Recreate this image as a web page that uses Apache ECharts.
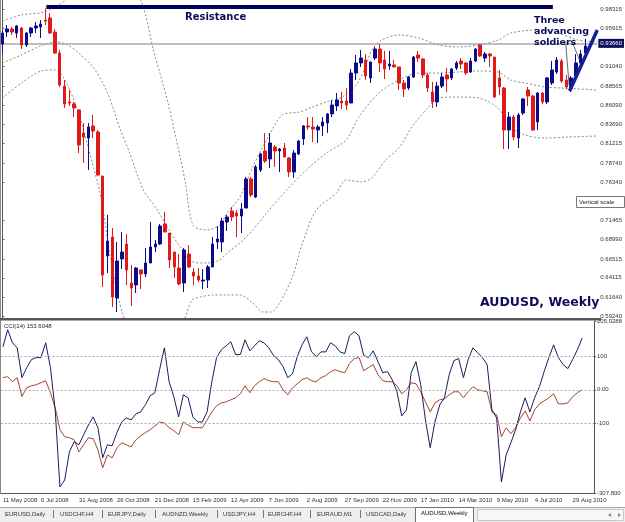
<!DOCTYPE html>
<html>
<head>
<meta charset="utf-8">
<script src="https://cdn.jsdelivr.net/npm/echarts@6/dist/echarts.min.js"></script>
<style>
html, body { margin: 0; padding: 0; background: #fff; }
#chart { width: 625px; height: 522px; }
</style>
</head>
<body>
<div id="chart"></div>
<script>
// weekly slots on the x axis (last two are empty margin on the right)
var slotCount = 125;

var dateTicks = ['11 May 2008', '6 Jul 2008', '31 Aug 2008', '26 Oct 2008', '21 Dec 2008', '15 Feb 2009',
  '12 Apr 2009', '7 Jun 2009', '2 Aug 2009', '27 Sep 2009', '22 Nov 2009', '17 Jan 2010',
  '14 Mar 2010', '9 May 2010', '4 Jul 2010', '29 Aug 2010'];

var priceTicks = [0.98315, 0.95915, 0.91040, 0.88565, 0.86090, 0.83690, 0.81215, 0.78740,
  0.76340, 0.71465, 0.68990, 0.66515, 0.64115, 0.61640, 0.59240];
var bidPrice = 0.9366;

var cciTickValues = [205.0288, 100, 0, -100, -307.8];
var cciTickLabels = ['205.0288', '100', '0.00', '-100', '-307.800'];
var cciLevels = [100, 0, -100];

// [open, close, low, high]
var ohlc = [
  [0.9392, 0.9532, 0.9277, 0.9558], [0.9545, 0.9583, 0.9481, 0.9634], [0.9583, 0.9545, 0.9507, 0.9609],
  [0.9532, 0.9622, 0.9469, 0.9634], [0.9596, 0.9379, 0.9328, 0.9609], [0.9379, 0.9532, 0.9354, 0.9545],
  [0.9532, 0.9596, 0.9481, 0.9609], [0.9596, 0.9622, 0.9532, 0.9673], [0.9609, 0.9647, 0.9469, 0.9698],
  [0.9698, 0.9685, 0.9634, 0.9845], [0.9724, 0.9532, 0.9520, 0.9787], [0.9545, 0.9277, 0.9265, 0.9583],
  [0.9277, 0.8869, 0.8844, 0.9316], [0.8856, 0.8627, 0.8576, 0.8933], [0.8653, 0.8640, 0.8602, 0.8806],
  [0.8627, 0.8576, 0.8461, 0.8653], [0.8551, 0.8104, 0.8002, 0.8563], [0.8257, 0.8206, 0.7875, 0.8385],
  [0.8193, 0.8334, 0.7786, 0.8385], [0.8347, 0.8283, 0.8193, 0.8487], [0.8270, 0.7722, 0.7709, 0.8296],
  [0.7709, 0.6447, 0.6294, 0.7709], [0.6689, 0.6880, 0.6472, 0.7212], [0.6931, 0.6166, 0.6039, 0.7046],
  [0.6154, 0.6625, 0.5975, 0.6868], [0.6651, 0.6740, 0.6523, 0.6995], [0.6842, 0.6511, 0.6319, 0.6970],
  [0.6345, 0.6281, 0.6052, 0.6574], [0.6319, 0.6536, 0.6217, 0.6549], [0.6511, 0.6460, 0.6268, 0.6511],
  [0.6460, 0.6600, 0.6421, 0.6791], [0.6600, 0.6804, 0.6600, 0.7123], [0.6804, 0.6842, 0.6740, 0.6893],
  [0.6842, 0.7072, 0.6829, 0.7097], [0.7097, 0.6995, 0.6995, 0.7250], [0.6982, 0.6638, 0.6536, 0.6982],
  [0.6740, 0.6549, 0.6409, 0.6740], [0.6536, 0.6332, 0.6319, 0.6715], [0.6345, 0.6766, 0.6230, 0.6791],
  [0.6715, 0.6549, 0.6536, 0.6829], [0.6485, 0.6434, 0.6319, 0.6536], [0.6434, 0.6383, 0.6358, 0.6536],
  [0.6370, 0.6383, 0.6268, 0.6523], [0.6383, 0.6549, 0.6281, 0.6574], [0.6549, 0.6842, 0.6549, 0.6931],
  [0.6868, 0.6906, 0.6778, 0.7072], [0.6868, 0.7135, 0.6740, 0.7174], [0.7123, 0.7186, 0.7008, 0.7212],
  [0.7263, 0.7186, 0.7135, 0.7314], [0.7237, 0.7199, 0.6931, 0.7276], [0.7199, 0.7288, 0.6982, 0.7365],
  [0.7301, 0.7671, 0.7301, 0.7696], [0.7671, 0.7467, 0.7441, 0.7696], [0.7441, 0.7824, 0.7429, 0.7849],
  [0.7786, 0.7990, 0.7760, 0.8002], [0.8028, 0.7900, 0.7875, 0.8257], [0.7926, 0.8130, 0.7811, 0.8257],
  [0.8079, 0.8028, 0.7824, 0.8104], [0.8028, 0.8053, 0.7760, 0.8066], [0.8066, 0.7951, 0.7951, 0.8130],
  [0.7939, 0.7760, 0.7696, 0.7951], [0.7760, 0.8002, 0.7684, 0.8041], [0.7990, 0.8155, 0.7977, 0.8168],
  [0.8181, 0.8347, 0.8104, 0.8359], [0.8347, 0.8334, 0.8296, 0.8461], [0.8334, 0.8308, 0.8143, 0.8461],
  [0.8296, 0.8334, 0.8130, 0.8359], [0.8347, 0.8398, 0.8219, 0.8461], [0.8385, 0.8500, 0.8257, 0.8512],
  [0.8500, 0.8614, 0.8461, 0.8678], [0.8602, 0.8678, 0.8538, 0.8767], [0.8665, 0.8640, 0.8563, 0.8780],
  [0.8665, 0.8614, 0.8551, 0.8831], [0.8640, 0.9022, 0.8640, 0.9073], [0.9022, 0.9150, 0.8933, 0.9252],
  [0.9150, 0.9213, 0.9099, 0.9316], [0.9188, 0.8984, 0.8933, 0.9265], [0.8959, 0.9163, 0.8895, 0.9163],
  [0.9213, 0.9328, 0.9188, 0.9354], [0.9328, 0.9150, 0.9035, 0.9392], [0.9188, 0.9073, 0.8946, 0.9303],
  [0.9112, 0.9137, 0.9061, 0.9303], [0.9124, 0.9099, 0.9099, 0.9188], [0.9099, 0.8895, 0.8806, 0.9099],
  [0.8895, 0.8818, 0.8716, 0.8933], [0.8831, 0.8971, 0.8806, 0.8984], [0.8971, 0.9226, 0.8959, 0.9239],
  [0.9252, 0.9213, 0.9163, 0.9303], [0.9201, 0.8997, 0.8959, 0.9213], [0.8997, 0.8831, 0.8780, 0.9022],
  [0.8780, 0.8653, 0.8576, 0.8908], [0.8653, 0.8856, 0.8589, 0.8908], [0.8856, 0.8971, 0.8831, 0.9022],
  [0.8997, 0.8946, 0.8780, 0.9086], [0.8959, 0.9073, 0.8933, 0.9086], [0.9086, 0.9150, 0.9061, 0.9175],
  [0.9175, 0.9137, 0.9073, 0.9213], [0.9150, 0.9022, 0.8997, 0.9163], [0.9035, 0.9175, 0.9022, 0.9213],
  [0.9175, 0.9328, 0.9163, 0.9341], [0.9379, 0.9239, 0.9226, 0.9392], [0.9213, 0.9265, 0.9163, 0.9290],
  [0.9265, 0.9239, 0.9099, 0.9277], [0.9226, 0.8716, 0.8704, 0.9226], [0.8959, 0.8844, 0.8742, 0.9061],
  [0.8831, 0.8296, 0.8053, 0.8844], [0.8296, 0.8461, 0.8053, 0.8525], [0.8461, 0.8206, 0.8168, 0.8487],
  [0.8193, 0.8487, 0.8066, 0.8512], [0.8512, 0.8691, 0.8487, 0.8704], [0.8806, 0.8729, 0.8602, 0.8844],
  [0.8729, 0.8296, 0.8283, 0.8742], [0.8398, 0.8767, 0.8296, 0.8780], [0.8767, 0.8653, 0.8627, 0.8780],
  [0.8653, 0.8959, 0.8627, 0.8971], [0.8895, 0.9061, 0.8869, 0.9175], [0.9035, 0.9188, 0.9010, 0.9226],
  [0.9175, 0.8920, 0.8895, 0.9201], [0.8933, 0.8844, 0.8818, 0.8997], [0.8831, 0.8959, 0.8780, 0.8984],
  [0.8984, 0.9150, 0.8971, 0.9265], [0.9150, 0.9265, 0.9137, 0.9316], [0.9277, 0.9366, 0.9252, 0.9456]
];

// bollinger envelope, read at points along each curve: [bar index, price]
var upperBand = [[0, 0.9685], [4, 0.9762], [8.7, 0.9800], [13.3, 0.9953], [16.4, 1.0144], [20.6, 1.0272],
  [24.7, 1.0208], [28.9, 0.9953], [31.6, 0.9316], [34.5, 0.8678], [37.2, 0.7951], [38.3, 0.7620],
  [39.9, 0.7084], [42.8, 0.7021], [45.5, 0.7084], [47, 0.7237], [49.7, 0.7441], [52.4, 0.7824],
  [55.3, 0.8168], [58.6, 0.8487], [62.2, 0.8525], [64.9, 0.8589], [67.8, 0.8653], [71.1, 0.8716],
  [74, 0.8869], [75.9, 0.9086], [77.3, 0.9316], [79.4, 0.9443], [83, 0.9507], [87.1, 0.9469],
  [91.3, 0.9379], [95.4, 0.9354], [99.6, 0.9379], [103.7, 0.9443], [106.4, 0.9532], [112.1, 0.9571],
  [116.2, 0.9532], [120.4, 0.9443], [124.5, 0.9418]];
var middleBand = [[0, 0.9150], [4, 0.9252], [7.5, 0.9354], [11.2, 0.9418], [13.7, 0.9379], [16.4, 0.9252],
  [19.1, 0.9086], [22, 0.8767], [24.7, 0.8296], [26.4, 0.8041], [29.5, 0.7531], [32.4, 0.7276],
  [34.5, 0.7059], [37.2, 0.6804], [39.9, 0.6613], [42.8, 0.6600], [45.5, 0.6638], [47, 0.6727],
  [49.7, 0.6855], [52.4, 0.7021], [55.3, 0.7237], [59.5, 0.7531], [63.6, 0.7786], [67.8, 0.8002],
  [71.9, 0.8168], [74.6, 0.8461], [78.8, 0.8767], [83, 0.8933], [87.1, 0.9022], [91.3, 0.9022],
  [95.4, 0.9035], [99.6, 0.9048], [103.7, 0.9035], [106.4, 0.8933], [109.4, 0.8895], [113.5, 0.8844],
  [116.8, 0.8831], [124.5, 0.8806]];
var lowerBand = [[0, 0.8704], [4, 0.8895], [8.1, 0.9048], [10.8, 0.9061], [12.3, 0.9010], [14.3, 0.8780],
  [16.4, 0.8423], [18.1, 0.8041], [20.6, 0.7441], [22.7, 0.6638], [25.4, 0.5911], [28.9, 0.5554],
  [33.1, 0.5491], [37.2, 0.5746], [38.3, 0.5911], [39.7, 0.6128], [41.4, 0.6166], [44.1, 0.6192],
  [47, 0.6192], [49.7, 0.6192], [52.4, 0.6090], [54.5, 0.5975], [56.3, 0.5975], [58, 0.6090],
  [60.7, 0.6421], [62.8, 0.6855], [65.7, 0.7276], [69.9, 0.7492], [71.9, 0.7658], [75.3, 0.7633],
  [77.3, 0.7684], [80.2, 0.7913], [83, 0.8066], [85.7, 0.8334], [89.2, 0.8589], [91.3, 0.8704],
  [95.4, 0.8716], [99.6, 0.8704], [103.7, 0.8576], [106.4, 0.8334], [109.4, 0.8232], [113.5, 0.8193],
  [118.3, 0.8206], [124.5, 0.8219]];

// hand drawn objects: [bar index, price]
var resistanceLine = [[9.2, 0.9864], [115.2, 0.9864]];
var trendLine = [[118.7, 0.8793], [124.5, 0.9571]];
var pointerA = [[117.9, 0.9392], [118.6, 0.8869]];
var pointerB = [[119.3, 0.9405], [120.8, 0.9188]];

var cciMain = [
  128, 179, 140, 125, 36, 66, 90, 96, 96, 140,
  66, -60, -290, -269, -185, -155, -164, -134, -105, -81,
  -113, -203, -164, -167, -128, -96, -84, -90, -72, -66,
  -45, -18, -9, 60, 125, 24, -21, -81, -15, -24,
  -81, -96, -96, -66, 24, 96, 119, 131, 143, 105,
  105, 149, 116, 131, 146, 140, 125, 102, 90, 69,
  36, 48, 99, 134, 158, 113, 99, 113, 113, 140,
  131, 113, 108, 161, 173, 161, 102, 96, 116, 84,
  51, 54, 30, -6, -78, -60, 51, 84, 15, -90,
  -173, -96, -45, -24, 45, 87, 93, 36, 90, 125,
  110, 96, 75, -60, -84, -275, -194, -158, -119, -66,
  -24, -66, -24, 9, 54, 96, 134, 96, 75, 63,
  90, 119, 153.6];
var cciSlow = [
  36, 39, 24, 36, -20, 6, 12, 15, 21, 27,
  -9, -54, -119, -140, -143, -149, -185, -164, -143, -146,
  -179, -233, -194, -203, -173, -158, -164, -170, -149, -137,
  -128, -119, -108, -96, -99, -113, -122, -134, -96, -105,
  -113, -113, -113, -90, -66, -48, -39, -36, -30, -24,
  -12, 12, -9, 12, 24, 33, 27, 24, 24, 0,
  -15, 6, 18, 30, 36, 27, 24, 36, 42, 54,
  60, 54, 51, 78, 93, 96, 57, 66, 75, 45,
  27, 24, 24, 12, -12, 0, 21, 18, -6, -36,
  -66, -39, -30, -27, -15, -6, -6, -24, -6, 9,
  0, -3, -6, -66, -75, -140, -113, -131, -113, -84,
  -63, -93, -60, -42, -33, -24, -12, -42, -42, -39,
  -21, -9, 0];

var tabNames = ['EURUSD,Daily', 'USDCHF,H4', 'EURJPY,Daily', 'AUDNZD,Weekly', 'USDJPY,H4',
  'EURCHF,H4', 'EURAUD,M1', 'USDCAD,Daily'];
var activeTab = 'AUDUSD,Weekly';

var slots = [];
for (var i = 0; i < slotCount; i++) slots.push(String(i));

var axisFont = 'Liberation Sans, Arial, sans-serif';
var boldFont = 'DejaVu Sans, Verdana, sans-serif';

function bandSeries(data) {
  return {
    type: 'line', xAxisIndex: 1, yAxisIndex: 0, data: data,
    symbol: 'none', smooth: 0.3, silent: true, z: 1,
    lineStyle: { color: '#8a8a8a', width: 1, type: [2, 2] }
  };
}

function drawnLine(data, color, width) {
  return {
    type: 'line', xAxisIndex: 1, yAxisIndex: 0, data: data,
    symbol: 'none', silent: true, z: 5,
    lineStyle: { color: color, width: width }
  };
}

// tab bar pieces
var tabX = [5, 60, 108, 162, 223, 268, 317, 366];
var sepX = [53, 102, 155, 217, 263, 310, 360];
var tabGraphics = [
  { type: 'rect', shape: { x: 0, y: 507, width: 625, height: 15 }, style: { fill: '#efefef' }, z: 10 },
  { type: 'line', shape: { x1: 0, y1: 507.5, x2: 625, y2: 507.5 }, style: { stroke: '#a8a8a8', lineWidth: 1 }, z: 11 },
  { type: 'rect', shape: { x: 477.5, y: 509.5, width: 146, height: 11 }, style: { fill: '#f7f7f7', stroke: '#c8c8c8', lineWidth: 1 }, z: 11 },
  { type: 'polygon', shape: { points: [[608, 515], [611, 513], [611, 517]] }, style: { fill: '#888' }, z: 12 },
  { type: 'polygon', shape: { points: [[621, 515], [618, 513], [618, 517]] }, style: { fill: '#888' }, z: 12 },
  { type: 'rect', shape: { x: 415.5, y: 507.5, width: 58, height: 15 }, style: { fill: '#fff', stroke: '#707070', lineWidth: 1 }, z: 11 },
  { type: 'text', x: 421, y: 513, style: { text: activeTab, font: '6px ' + axisFont, fill: '#000', verticalAlign: 'middle' }, z: 12 }
];
tabNames.forEach(function (name, k) {
  tabGraphics.push({ type: 'text', x: tabX[k], y: 514, style: { text: name, font: '6px ' + axisFont, fill: '#333', verticalAlign: 'middle' }, z: 12 });
});
sepX.forEach(function (x) {
  tabGraphics.push({ type: 'line', shape: { x1: x + 0.5, y1: 510, x2: x + 0.5, y2: 518 }, style: { stroke: '#777', lineWidth: 1 }, z: 12 });
});

var option = {
  animation: false,
  backgroundColor: '#ffffff',
  grid: [
    { left: -1, top: 0, width: 601, height: 318 },
    { left: -1, top: 321, width: 601, height: 172 }
  ],
  xAxis: [
    {
      type: 'category', gridIndex: 0, data: slots,
      axisLine: { show: false, onZero: false }, axisTick: { show: false }, axisLabel: { show: false }
    },
    { type: 'value', gridIndex: 0, min: -0.5, max: 124.5, show: false },
    {
      type: 'category', gridIndex: 1, data: slots,
      axisLine: { show: true, onZero: false, lineStyle: { color: '#555', width: 1 } },
      axisTick: { show: false },
      axisLabel: {
        interval: 7, align: 'left', fontSize: 6, fontFamily: axisFont, color: '#333', margin: 4,
        formatter: function (v, idx) { return dateTicks[idx / 8] || ''; }
      }
    }
  ],
  yAxis: [
    {
      type: 'value', gridIndex: 0, position: 'right', min: 0.58985, max: 0.9953,
      splitLine: { show: false },
      axisLine: { show: true, lineStyle: { color: '#555' } },
      axisTick: { show: true, length: 2, customValues: priceTicks, lineStyle: { color: '#555' } },
      axisLabel: {
        customValues: priceTicks, fontSize: 6, fontFamily: axisFont, color: '#333', margin: 3,
        formatter: function (v) { return v.toFixed(5); }
      }
    },
    {
      type: 'value', gridIndex: 1, position: 'right', min: -307.8, max: 205.0288,
      splitLine: { show: false },
      axisLine: { show: true, lineStyle: { color: '#555' } },
      axisTick: { show: true, length: 2, customValues: cciTickValues, lineStyle: { color: '#555' } },
      axisLabel: {
        customValues: cciTickValues, fontSize: 6, fontFamily: axisFont, color: '#333', margin: 3,
        formatter: function (v) {
          for (var k = 0; k < cciTickValues.length; k++) {
            if (Math.abs(cciTickValues[k] - v) < 1e-6) return cciTickLabels[k];
          }
          return '';
        }
      }
    }
  ],
  series: [
    bandSeries(upperBand),
    bandSeries(middleBand),
    bandSeries(lowerBand),
    {
      type: 'candlestick', xAxisIndex: 0, yAxisIndex: 0, data: ohlc,
      barWidth: 3, silent: true, z: 3,
      itemStyle: {
        color: '#0c0c8a', color0: '#e01a1a',
        borderColor: '#0c0c8a', borderColor0: '#e01a1a', borderWidth: 1
      },
      markLine: {
        symbol: 'none', silent: true, z: 2,
        data: [{ yAxis: bidPrice }],
        lineStyle: { color: '#a8a8a8', width: 1.5, type: 'solid' },
        label: {
          position: 'end', distance: 1, formatter: bidPrice.toFixed(5),
          backgroundColor: '#10105a', color: '#fff', fontSize: 6, fontFamily: axisFont,
          padding: [2, 2, 1, 2]
        }
      }
    },
    drawnLine(resistanceLine, '#00005e', 4),
    drawnLine(trendLine, '#14209a', 3.5),
    drawnLine(pointerA, '#444', 0.8),
    drawnLine(pointerB, '#444', 0.8),
    {
      type: 'line', xAxisIndex: 2, yAxisIndex: 1, data: cciSlow,
      symbol: 'none', silent: true,
      lineStyle: { color: '#a3452f', width: 1 }
    },
    {
      type: 'line', xAxisIndex: 2, yAxisIndex: 1, data: cciMain,
      symbol: 'none', silent: true,
      lineStyle: { color: '#1c1c60', width: 1 },
      markLine: {
        symbol: 'none', silent: true, label: { show: false },
        data: cciLevels.map(function (v) { return { yAxis: v }; }),
        lineStyle: { color: '#a8a8a8', width: 1, type: [2, 2] }
      }
    }
  ],
  graphic: [
    { type: 'line', shape: { x1: 0.5, y1: 0, x2: 0.5, y2: 493 }, style: { stroke: '#8a8a8a', lineWidth: 1 }, z: 10 },
    { type: 'rect', shape: { x: 0, y: 318, width: 601, height: 2.5 }, style: { fill: '#555' }, z: 10 },
    { type: 'text', x: 4, y: 326, style: { text: 'CCI(14) 153.6048', font: '6px ' + axisFont, fill: '#222', verticalAlign: 'middle' }, z: 10 },
    { type: 'text', x: 185, y: 17, style: { text: 'Resistance', font: 'bold 10px ' + boldFont, fill: '#0d0d5c', verticalAlign: 'middle' }, z: 10 },
    { type: 'text', x: 480, y: 303, style: { text: 'AUDUSD, Weekly', font: 'bold 12.5px ' + boldFont, fill: '#0d0d5c', verticalAlign: 'middle' }, z: 10 },
    { type: 'text', x: 534, y: 15, style: { text: 'Three\nadvancing\nsoldiers', font: 'bold 9.5px ' + boldFont, lineHeight: 11, fill: '#0d0d5c', verticalAlign: 'top' }, z: 10 },
    { type: 'rect', shape: { x: 576.5, y: 196.5, width: 48, height: 11 }, style: { fill: '#fff', stroke: '#777', lineWidth: 1 }, z: 20 },
    { type: 'text', x: 579, y: 202, style: { text: 'Vertical scale', font: '6px ' + axisFont, fill: '#222', verticalAlign: 'middle' }, z: 21 }
  ].concat(tabGraphics)
};

var chart = echarts.init(document.getElementById('chart'));
chart.setOption(option);
</script>
</body>
</html>
